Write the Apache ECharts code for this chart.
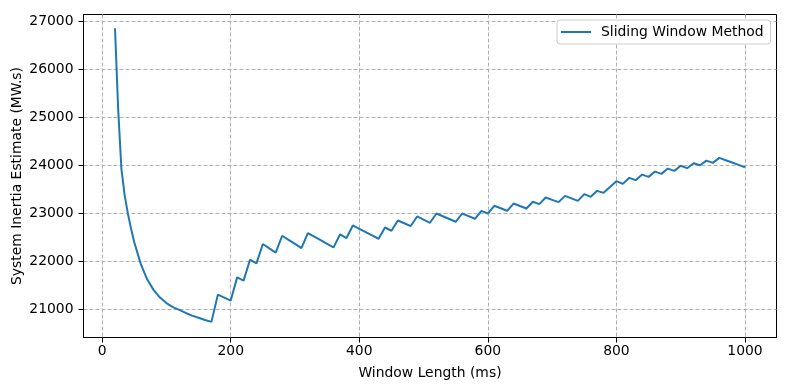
<!DOCTYPE html>
<html>
<head>
<meta charset="utf-8">
<script src="https://cdn.jsdelivr.net/npm/echarts@6/dist/echarts.min.js"></script>
<style>
html,body{margin:0;padding:0;background:#fff;}
#chart{width:790px;height:390px;}
</style>
</head>
<body>
<div id="chart"></div>
<script>
var windowLengths = [20,25,30,35,40,45,50,60,70,80,90,100,110,120,130,140,150,160,170,
  180,190,200,210,220,230,240,250,260,270,280,290,300,310,320,330,340,350,360,370,380,390,
  400,410,420,430,440,450,460,470,480,490,500,510,520,530,540,550,560,570,580,590,600,
  610,620,630,640,650,660,670,680,690,700,710,720,730,740,750,760,770,780,790,800,
  810,820,830,840,850,860,870,880,890,900,910,920,930,940,950,960,970,980,990,1000];
var inertiaEstimates = [26849,25150,23920,23380,23000,22680,22400,21950,21630,21410,21250,21135,21050,20995,20930,20875,20830,20785,20745,
  21311,21250,21187,21670,21602,22037,21961,22363,22273,22183,22535,22450,22365,22280,22591,22517,22442,22368,22293,22562,22487,22749,
  22680,22611,22542,22473,22707,22639,22853,22795,22737,22936,22870,22805,22998,22940,22883,22826,22998,22943,22888,23054,22998,
  23158,23106,23054,23205,23153,23102,23241,23193,23330,23282,23234,23365,23313,23261,23400,23344,23469,23427,23548,23670,
  23614,23739,23691,23807,23759,23869,23822,23932,23884,23990,23940,24044,24002,24098,24050,24154,24106,24058,24010,23960];
var xTicks = [0,200,400,600,800,1000];
var yTicks = [21000,22000,23000,24000,25000,26000,27000];
var seriesName = 'Sliding Window Method';

var pts = windowLengths.map(function(x,i){return [x, inertiaEstimates[i]];});
var font = 'DejaVu Sans';
var plain = function(v){return String(v);};

var chart = echarts.init(document.getElementById('chart'), null, {renderer:'canvas'});
chart.setOption({
  animation:false,
  backgroundColor:'#fff',
  textStyle:{fontFamily:font},
  grid:{left:83.5, right:13.5, top:14.5, bottom:52.5, outerBoundsMode:'none', containLabel:false,
        show:true, borderColor:'#000', borderWidth:1, backgroundColor:'transparent'},
  legend:{
    show:true, left:557, top:20,
    data:[{name:seriesName, icon:'rect'}],
    itemWidth:30, itemHeight:2,
    padding:[5,7,5,4],
    backgroundColor:'#fff', borderColor:'#cccccc', borderWidth:1, borderRadius:3,
    textStyle:{fontFamily:font, fontSize:13.9, color:'#000', padding:[0,0,0,5]}
  },
  xAxis:{
    type:'value', min:-29, max:1049,
    name:'Window Length (ms)', nameLocation:'middle', nameGap:29, nameMoveOverlap:false,
    nameTextStyle:{fontFamily:font, fontSize:13.9, color:'#000'},
    axisLine:{show:true, onZero:false, lineStyle:{color:'#000', width:1}},
    axisTick:{show:true, length:5, lineStyle:{color:'#000'}, customValues:xTicks},
    axisLabel:{show:true, fontFamily:font, fontSize:13.9, color:'#000', margin:7, customValues:xTicks, formatter:plain},
    splitLine:{show:true, customValues:xTicks, lineStyle:{color:'#b0b0b0', width:1, type:[4,2]}}
  },
  yAxis:{
    type:'value', min:20420, max:27135,
    name:'System Inertia Estimate (MW.s)', nameLocation:'middle', nameGap:59, nameMoveOverlap:false,
    nameTextStyle:{fontFamily:font, fontSize:13.9, color:'#000'},
    axisLine:{show:true, onZero:false, lineStyle:{color:'#000', width:1}},
    axisTick:{show:true, length:5, lineStyle:{color:'#000'}, customValues:yTicks},
    axisLabel:{show:true, fontFamily:font, fontSize:13.9, color:'#000', margin:10, customValues:yTicks, formatter:plain},
    splitLine:{show:true, customValues:yTicks, lineStyle:{color:'#b0b0b0', width:1, type:[4,2]}}
  },
  series:[{
    name:seriesName, type:'line', data:pts,
    showSymbol:false, symbol:'none',
    lineStyle:{color:'#1f77b4', width:2},
    itemStyle:{color:'#1f77b4'}
  }]
});
</script>
</body>
</html>
